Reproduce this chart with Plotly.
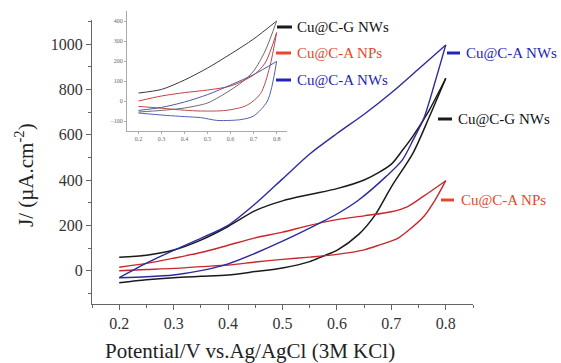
import plotly.graph_objects as go

# ---------------- main data (J vs potential) ----------------
gnw_up_x = [0.2, 0.25, 0.3, 0.35, 0.4, 0.45, 0.5, 0.55, 0.6, 0.65, 0.7, 0.72, 0.74, 0.77, 0.8]
gnw_up_y = [59, 68, 91, 135, 195, 265, 308, 336, 362, 400, 470, 530, 595, 710, 849]
gnw_dn_x = [0.8, 0.77, 0.74, 0.7, 0.67, 0.64, 0.6, 0.575, 0.55, 0.5, 0.45, 0.4, 0.35, 0.3, 0.25, 0.2]
gnw_dn_y = [849, 680, 520, 370, 245, 160, 90, 65, 40, 12, -4, -19, -25, -31, -40, -53]

anw_up_x = [0.2, 0.25, 0.3, 0.35, 0.4, 0.45, 0.5, 0.55, 0.6, 0.65, 0.7, 0.75, 0.8]
anw_up_y = [-31, 33, 90, 143, 200, 295, 405, 515, 605, 690, 785, 890, 996]
anw_dn_x = [0.8, 0.78, 0.76, 0.74, 0.72, 0.69, 0.64, 0.6, 0.57, 0.5, 0.45, 0.4, 0.35, 0.3, 0.25, 0.2]
anw_dn_y = [996, 830, 675, 577, 488, 415, 312, 250, 212, 130, 77, 30, 0, -19, -27, -31]

anp_up_x = [0.2, 0.25, 0.3, 0.35, 0.4, 0.45, 0.5, 0.55, 0.6, 0.65, 0.7, 0.73, 0.76, 0.8]
anp_up_y = [15, 32, 55, 80, 112, 145, 170, 200, 225, 242, 260, 283, 330, 397]
anp_dn_x = [0.8, 0.78, 0.76, 0.73, 0.71, 0.68, 0.65, 0.6, 0.55, 0.5, 0.45, 0.4, 0.35, 0.3, 0.25, 0.2]
anp_dn_y = [397, 310, 240, 175, 140, 115, 92, 72, 60, 50, 38, 25, 18, 10, 5, 0]

# ---------------- inset data ----------------
in_g_up_x = [0.2, 0.3, 0.4, 0.5, 0.6, 0.7, 0.8]
in_g_up_y = [40, 58, 105, 165, 235, 310, 400]
in_g_dn_x = [0.8, 0.75, 0.7, 0.65, 0.6, 0.55, 0.5, 0.4, 0.3, 0.2]
in_g_dn_y = [400, 250, 150, 95, 55, 20, -10, -35, -47, -55]

in_p_up_x = [0.2, 0.3, 0.4, 0.5, 0.6, 0.7, 0.75, 0.8]
in_p_up_y = [0, 25, 42, 55, 75, 130, 190, 342]
in_p_dn_x = [0.8, 0.77, 0.73, 0.67, 0.58, 0.47, 0.4, 0.32, 0.2]
in_p_dn_y = [342, 170, 37, -22, -47, -50, -46, -38, -27]

in_w_up_x = [0.2, 0.3, 0.4, 0.5, 0.6, 0.7, 0.8]
in_w_up_y = [-47, -32, -5, 32, 80, 132, 198]
in_w_dn_x = [0.8, 0.76, 0.7, 0.65, 0.6, 0.54, 0.47, 0.4, 0.32, 0.2]
in_w_dn_y = [198, 0, -75, -92, -97, -97, -83, -78, -72, -60]

x_ticks = [0.2, 0.3, 0.4, 0.5, 0.6, 0.7, 0.8]
y_ticks = [0, 200, 400, 600, 800, 1000]
in_y_ticks = [-100, 0, 100, 200, 300, 400]

labels = ["Cu@C-G NWs", "Cu@C-A NPs", "Cu@C-A NWs"]

C_BLACK = "#1a1a1a"
C_RED = "#c8282d"
C_BLUE = "#2b2b9e"
T_RED = "#e5472b"
T_BLUE = "#2424b8"
FONT = "Liberation Serif, Times New Roman, serif"

fig = go.Figure()

def add(x, y, color, width, xa="x", ya="y"):
    fig.add_trace(go.Scatter(x=x, y=y, mode="lines", xaxis=xa, yaxis=ya,
                             line=dict(color=color, width=width, shape="spline", smoothing=0.8),
                             showlegend=False, hoverinfo="skip"))

add(gnw_up_x, gnw_up_y, C_BLACK, 1.5)
add(gnw_dn_x, gnw_dn_y, C_BLACK, 1.5)
add(anp_up_x, anp_up_y, C_RED, 1.4)
add(anp_dn_x, anp_dn_y, C_RED, 1.4)
add(anw_up_x, anw_up_y, C_BLUE, 1.4)
add(anw_dn_x, anw_dn_y, C_BLUE, 1.4)

add(in_g_up_x, in_g_up_y, "#3a3a3a", 1, "x2", "y2")
add(in_g_dn_x, in_g_dn_y, "#6a6a6a", 1, "x2", "y2")
add(in_p_up_x, in_p_up_y, "#c84040", 1, "x2", "y2")
add(in_p_dn_x, in_p_dn_y, "#b84a50", 1, "x2", "y2")
add(in_w_up_x, in_w_up_y, "#4a5aa8", 1, "x2", "y2")
add(in_w_dn_x, in_w_dn_y, "#5060b0", 1, "x2", "y2")

L, R, T, B = 92, 473, 10, 304
W, H = R - L, B - T

def px(x):
    return (x - L) / W

def py(y):
    return (B - y) / H

ax_common = dict(showgrid=False, zeroline=False, showline=True, ticks="outside",
                 mirror=False)

fig.update_layout(
    width=561, height=363,
    margin=dict(l=L, r=561 - R, t=T, b=363 - B, pad=0),
    paper_bgcolor="white", plot_bgcolor="white",
    font=dict(family=FONT, color="#222"),
    xaxis=dict(**ax_common, range=[0.15, 0.85], domain=[0, 1], tickvals=x_ticks,
               ticktext=[f"{v:.1f}" for v in x_ticks], linecolor="#666", linewidth=1.3,
               tickcolor="#666", ticklen=5, tickwidth=1.2,
               tickfont=dict(size=16, family=FONT, color="#333"),
               minor=dict(dtick=0.05, tick0=0.15, ticks="outside", ticklen=3, tickcolor="#666")),
    yaxis=dict(**ax_common, range=[-147, 1106], domain=[0, (B - 20) / H], tickvals=y_ticks,
               linecolor="#666", linewidth=1.3, tickcolor="#666", ticklen=5, tickwidth=1.2,
               tickfont=dict(size=16, family=FONT, color="#333"),
               minor=dict(dtick=100, tick0=-100, ticks="outside", ticklen=3, tickcolor="#666")),
    xaxis2=dict(**ax_common, range=[0.15, 0.845], domain=[px(127), px(287)], anchor="y2",
                tickvals=x_ticks, ticktext=[f"{v:.1f}" for v in x_ticks],
                linecolor="#aaa", linewidth=1, tickcolor="#aaa", ticklen=2,
                tickfont=dict(size=6, family=FONT, color="#666")),
    yaxis2=dict(**ax_common, range=[-150, 450], domain=[py(131), py(11)], anchor="x2",
                tickvals=in_y_ticks, linecolor="#aaa", linewidth=1, tickcolor="#aaa", ticklen=2,
                tickfont=dict(size=6, family=FONT, color="#666")),
)

# axis titles
fig.add_annotation(text="Potential/V vs.Ag/AgCl (3M KCl)", xref="paper", yref="paper",
                   x=px(250), y=py(351), xanchor="center", yanchor="middle", showarrow=False,
                   font=dict(size=21, family=FONT, color="#222"))
fig.add_annotation(text="J/ (µA.cm<sup>-2</sup>)", xref="paper", yref="paper",
                   x=px(24), y=py(175), xanchor="center", yanchor="middle", showarrow=False,
                   textangle=-90, font=dict(size=21, family=FONT, color="#222"))

# labels with coloured dashes
label_spec = [
    (labels[0], C_BLACK, "#111", 277, 292, 27, 295),
    (labels[1], "#e5472b", T_RED, 276, 291, 53, 295),
    (labels[2], "#2424b8", T_BLUE, 276, 291, 80, 295),
    (labels[2], "#2424b8", T_BLUE, 447, 460, 53, 464),
    (labels[0], C_BLACK, "#111", 438, 452, 119, 456),
    (labels[1], "#e5472b", T_RED, 441, 454, 200, 459),
]
for text, dcol, tcol, x0, x1, yy, tx in label_spec:
    fig.add_shape(type="line", xref="paper", yref="paper", x0=px(x0), x1=px(x1),
                  y0=py(yy), y1=py(yy), line=dict(color=dcol, width=3))
    fig.add_annotation(text=text, xref="paper", yref="paper", x=px(tx), y=py(yy),
                       xanchor="left", yanchor="middle", showarrow=False,
                       font=dict(size=15, family=FONT, color=tcol))

page_fix = ("document.body.style.margin='0';"
            "document.body.style.overflow='hidden';"
            "document.documentElement.style.overflow='hidden';")

fig.write_html("out.html", post_script=page_fix, config={"displayModeBar": False})
